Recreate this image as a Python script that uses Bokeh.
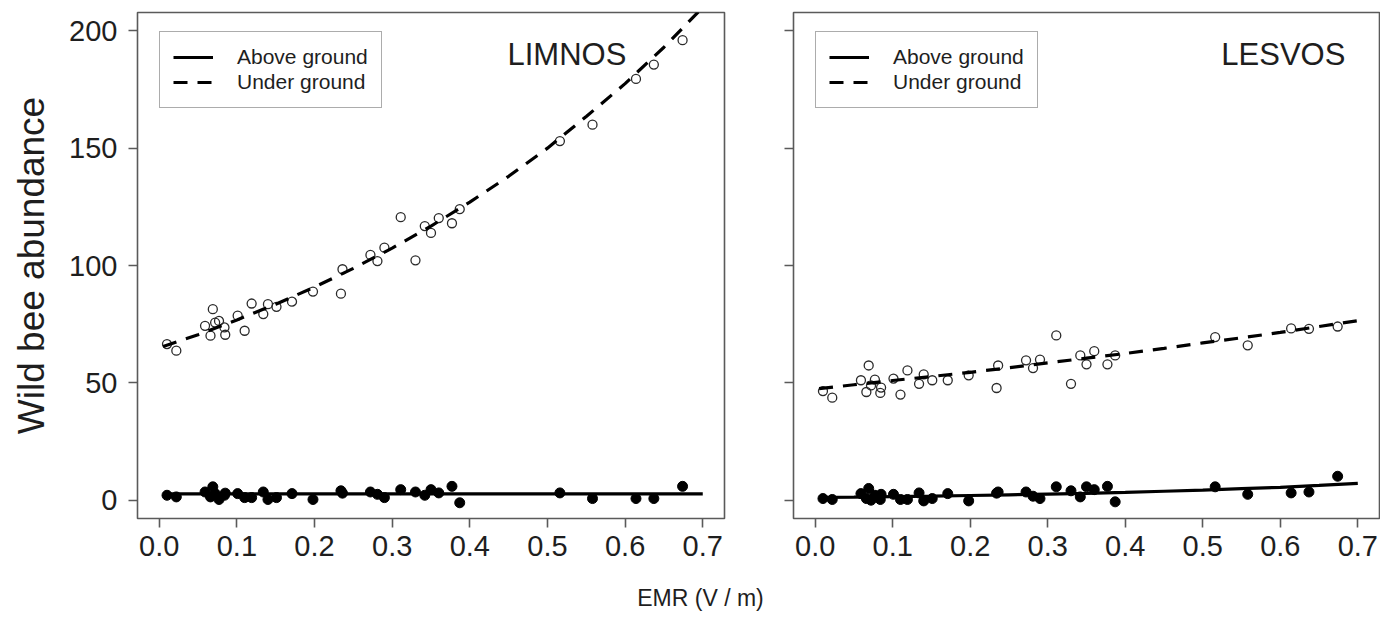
from bokeh.plotting import figure
from bokeh.layouts import row, column
from bokeh.models import Legend, LegendItem, Label, FixedTicker
from bokeh.embed import file_html
from bokeh.resources import INLINE

# ---------------- data ----------------
emr = [0.010, 0.022, 0.059, 0.066, 0.069, 0.072, 0.077, 0.084, 0.085, 0.101,
       0.110, 0.119, 0.134, 0.140, 0.151, 0.171, 0.198, 0.234, 0.236, 0.272,
       0.281, 0.290, 0.311, 0.330, 0.342, 0.350, 0.360, 0.377, 0.387, 0.516,
       0.558, 0.614, 0.637, 0.674]

limnos_under = [66.5, 63.7, 74.3, 70.1, 81.4, 75.7, 76.4, 73.6, 70.5, 78.6,
                72.2, 83.8, 79.3, 83.5, 82.4, 84.6, 88.9, 88.0, 98.4, 104.5,
                101.9, 107.6, 120.6, 102.2, 116.8, 113.9, 120.2, 118.0, 124.0, 153.0,
                160.0, 179.5, 185.6, 196.0]
limnos_above = [2.1, 1.4, 3.5, 1.4, 5.7, 2.8, 0.3, 2.1, 3.0, 2.8,
                1.1, 1.1, 3.5, 0.3, 1.1, 2.8, 0.3, 4.0, 3.0, 3.5,
                2.5, 1.1, 4.5, 3.5, 2.1, 4.5, 3.1, 5.9, -1.1, 3.1,
                0.7, 0.7, 0.7, 5.9]

lesvos_under = [46.5, 43.7, 51.1, 46.1, 57.4, 48.9, 51.4, 45.7, 48.0, 51.8,
                45.0, 55.3, 49.6, 53.6, 51.1, 51.1, 53.2, 47.8, 57.4, 59.6,
                56.3, 59.9, 70.2, 49.6, 61.7, 57.9, 63.5, 57.9, 61.7, 69.5,
                66.0, 73.2, 73.0, 74.0]
lesvos_above = [0.7, 0.3, 2.8, 0.7, 5.0, 0.0, 2.1, 0.3, 2.5, 2.5,
                0.3, 0.3, 3.1, -0.3, 0.7, 2.8, -0.3, 3.0, 3.5, 3.5,
                1.7, 0.7, 5.7, 4.0, 1.4, 5.7, 4.5, 5.9, -0.7, 5.7,
                2.5, 3.1, 3.5, 10.2]

# fitted curves
fit_x = [0.005, 0.05, 0.10, 0.15, 0.20, 0.25, 0.30, 0.35, 0.40, 0.45,
         0.50, 0.55, 0.60, 0.65, 0.70]
limnos_under_fit = [65.5, 70.5, 76.8, 83.5, 90.8, 98.8, 107.4, 116.8, 127.0, 138.0,
                    150.0, 163.5, 177.5, 193.0, 210.0]
limnos_above_fit = [2.7, 2.7, 2.7, 2.7, 2.7, 2.7, 2.7, 2.7, 2.7, 2.7,
                    2.7, 2.7, 2.7, 2.7, 2.7]
lesvos_under_fit = [47.5, 49.2, 51.0, 52.7, 54.5, 56.4, 58.5, 60.5, 62.5, 64.7,
                    67.0, 69.2, 71.5, 74.0, 76.5]
lesvos_above_fit = [1.2, 1.3, 1.5, 1.7, 2.0, 2.3, 2.6, 2.9, 3.3, 3.8,
                    4.3, 4.9, 5.5, 6.3, 7.2]

x_ticks = [0.0, 0.1, 0.2, 0.3, 0.4, 0.5, 0.6, 0.7]
y_ticks = [0, 50, 100, 150, 200]

FONT = "Liberation Sans"
GRAY = "#5a5a5a"
TXT = "#1e1e1e"


def style(p, show_ylabels):
    p.grid.visible = False
    p.outline_line_color = GRAY
    p.outline_line_width = 1.6
    p.xaxis.ticker = FixedTicker(ticks=x_ticks)
    p.yaxis.ticker = FixedTicker(ticks=y_ticks)
    for ax in p.xaxis + p.yaxis:
        ax.axis_line_color = None
        ax.major_tick_line_color = GRAY
        ax.major_tick_line_width = 1.6
        ax.major_tick_out = 9
        ax.major_tick_in = 0
        ax.minor_tick_line_color = None
        ax.major_label_text_font = FONT
        ax.major_label_text_font_size = "29px"
        ax.major_label_text_color = TXT
        ax.major_label_text_font_style = "normal"
    p.xaxis.major_label_standoff = 8
    p.xaxis.major_label_overrides = {0.0: "0.0"}
    if show_ylabels:
        p.yaxis.major_label_standoff = 11
    else:
        p.yaxis.major_label_overrides = {t: "" for t in y_ticks}
        p.yaxis.major_label_standoff = 0


def panel(title, tx, under, above, under_fit, above_fit, **kw):
    p = figure(frame_width=kw.pop("fw"), frame_height=506,
               x_range=(-0.028, 0.728), y_range=(-7.8, 207.8),
               output_backend="svg", toolbar_location=None,
               min_border_top=12, min_border_bottom=58, **kw)
    p.scatter(emr, under, marker="circle", size=9, fill_color=None,
              line_color="#2a2a2a", line_width=1.3)
    p.scatter(emr, above, marker="circle", size=10, fill_color="black",
              line_color="black")
    r_under = p.line(fit_x, under_fit, line_color="black", line_width=3.2,
                     line_dash="14 10")
    r_above = p.line(fit_x, above_fit, line_color="black", line_width=3.2)
    leg = Legend(items=[LegendItem(label="Above ground", renderers=[r_above]),
                        LegendItem(label="Under ground", renderers=[r_under])],
                 location=(22, 410), label_text_font=FONT,
                 label_text_font_size="21px", label_text_color=TXT,
                 glyph_width=40, glyph_height=22, label_height=22,
                 label_standoff=24, padding=13, spacing=1,
                 border_line_color=GRAY, border_line_width=1.6,
                 background_fill_alpha=1.0, margin=0)
    p.add_layout(leg, "center")
    p.add_layout(Label(x=tx, y=190, text=title, text_font=FONT,
                       text_font_size="31px", text_color=TXT,
                       text_align="center", text_baseline="middle"))
    return p


p1 = panel("LIMNOS", 0.525, limnos_under, limnos_above,
           limnos_under_fit, limnos_above_fit,
           fw=587, min_border_left=137, min_border_right=55)
style(p1, True)
p1.yaxis.axis_label = "Wild bee abundance"
p1.yaxis.axis_label_text_font = FONT
p1.yaxis.axis_label_text_font_size = "37px"
p1.yaxis.axis_label_text_font_style = "normal"
p1.yaxis.axis_label_text_color = TXT
p1.yaxis.axis_label_standoff = 14

p2 = panel("LESVOS", 0.604, lesvos_under, lesvos_above,
           lesvos_under_fit, lesvos_above_fit,
           fw=586, min_border_left=14, min_border_right=1)
style(p2, False)

# shared x-axis title strip (pixel coordinates within the strip)
strip_w, strip_h = 1380, 40
p3 = figure(width=strip_w, height=strip_h, x_range=(0, strip_w),
            y_range=(strip_h, 0), output_backend="svg", toolbar_location=None,
            x_axis_location=None, y_axis_location=None,
            min_border=0, outline_line_color=None)
p3.grid.visible = False
p3.add_layout(Label(x=700, y=21, text="EMR (V / m)", text_font=FONT,
                    text_font_size="23px", text_color=TXT,
                    text_align="center", text_baseline="middle"))

layout = column(row(p1, p2), p3)
open("out.html", "w").write(file_html(layout, INLINE))
